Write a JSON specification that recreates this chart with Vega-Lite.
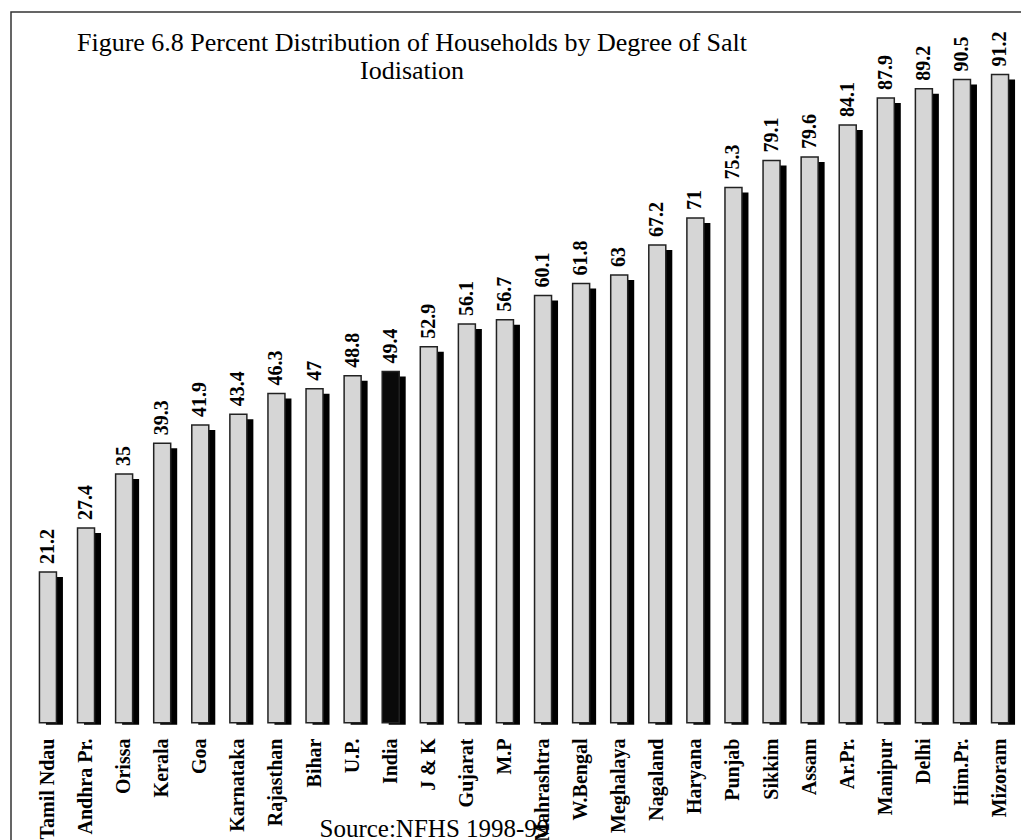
{
  "$schema": "https://vega.github.io/schema/vega-lite/v6.json",
  "width": 1026,
  "height": 840,
  "autosize": "none",
  "padding": {"left": 11, "top": 12, "right": 0, "bottom": 0},
  "background": "white",
  "config": {
    "view": {"stroke": "#333333", "strokeWidth": 1.5},
    "font": "Liberation Serif"
  },
  "title": {
    "text": ["Figure 6.8 Percent Distribution of Households by Degree of Salt", "Iodisation"],
    "font": "Liberation Serif",
    "fontSize": 26,
    "fontWeight": "normal",
    "color": "black",
    "anchor": "middle",
    "frame": "group",
    "baseline": "top",
    "dx": -112,
    "offset": -72,
    "lineHeight": 28
  },
  "data": {
    "values": [
      {"State": "Tamil Ndau", "Pct": 21.2},
      {"State": "Andhra Pr.", "Pct": 27.4},
      {"State": "Orissa", "Pct": 35},
      {"State": "Kerala", "Pct": 39.3},
      {"State": "Goa", "Pct": 41.9},
      {"State": "Karnataka", "Pct": 43.4},
      {"State": "Rajasthan", "Pct": 46.3},
      {"State": "Bihar", "Pct": 47},
      {"State": "U.P.", "Pct": 48.8},
      {"State": "India", "Pct": 49.4},
      {"State": "J & K", "Pct": 52.9},
      {"State": "Gujarat", "Pct": 56.1},
      {"State": "M.P", "Pct": 56.7},
      {"State": "Mahrashtra", "Pct": 60.1},
      {"State": "W.Bengal", "Pct": 61.8},
      {"State": "Meghalaya", "Pct": 63},
      {"State": "Nagaland", "Pct": 67.2},
      {"State": "Haryana", "Pct": 71},
      {"State": "Punjab", "Pct": 75.3},
      {"State": "Sikkim", "Pct": 79.1},
      {"State": "Assam", "Pct": 79.6},
      {"State": "Ar.Pr.", "Pct": 84.1},
      {"State": "Manipur", "Pct": 87.9},
      {"State": "Delhi", "Pct": 89.2},
      {"State": "Him.Pr.", "Pct": 90.5},
      {"State": "Mizoram", "Pct": 91.2}
    ]
  },
  "encoding": {
    "x": {
      "field": "State",
      "type": "nominal",
      "sort": null,
      "scale": {"paddingInner": 0, "paddingOuter": 0.47},
      "axis": {
        "orient": "bottom",
        "offset": -116,
        "domain": false,
        "ticks": false,
        "labelAngle": 270,
        "labelAlign": "right",
        "labelBaseline": "middle",
        "labelPadding": 2,
        "labelFont": "Liberation Serif",
        "labelFontWeight": "bold",
        "labelFontSize": 20,
        "labelColor": "black",
        "labelOverlap": false,
        "labelLimit": 0,
        "labelBound": false,
        "title": "Source:NFHS 1998-99",
        "titleFont": "Liberation Serif",
        "titleFontWeight": "normal",
        "titleFontSize": 25,
        "titleColor": "black",
        "titleAlign": "left",
        "titleAnchor": "start",
        "titleBaseline": "alphabetic",
        "titleX": 308,
        "titleY": 100
      }
    },
    "y": {
      "field": "Pct",
      "type": "quantitative",
      "scale": {"domain": [-18.2, 100], "nice": false, "zero": false},
      "axis": null
    }
  },
  "layer": [
    {
      "mark": {"type": "bar", "color": "black", "size": 17, "xOffset": 6.5, "yOffset": 5, "y2Offset": 2},
      "encoding": {"y2": {"datum": 0}}
    },
    {
      "mark": {"type": "bar", "size": 17, "stroke": "#222222", "strokeWidth": 1.5},
      "encoding": {
        "y2": {"datum": 0},
        "fill": {
          "condition": {"test": "datum.State === 'India'", "value": "#0a0a0a"},
          "value": "#d6d6d6"
        }
      }
    },
    {
      "mark": {
        "type": "text",
        "angle": 270,
        "align": "left",
        "baseline": "middle",
        "dx": 8,
        "font": "Liberation Serif",
        "fontWeight": "bold",
        "fontSize": 20,
        "color": "black"
      },
      "encoding": {"text": {"field": "Pct", "type": "nominal"}}
    }
  ]
}
